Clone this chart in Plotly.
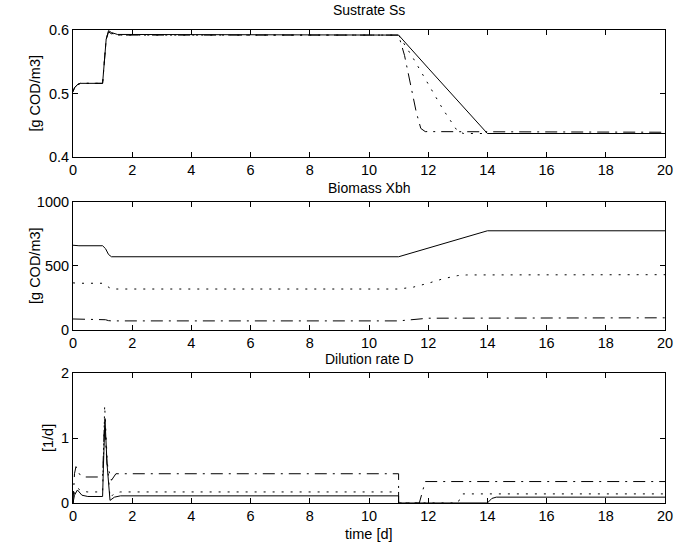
import plotly.graph_objects as go

# ---- Substrate Ss [g COD/m3] ----
ss_solid_t = [0, 0.05, 0.15, 0.25, 1.0, 1.05, 1.12, 1.2, 1.3, 1.5, 11.0, 12.0, 13.0, 14.0, 20]
ss_solid_v = [0.503, 0.509, 0.514, 0.516, 0.516, 0.545, 0.585, 0.599, 0.596, 0.593, 0.592, 0.540, 0.488, 0.437, 0.437]
ss_dot_t = [0, 0.05, 0.15, 0.25, 1.0, 1.05, 1.12, 1.2, 1.3, 1.5, 11.0, 11.5, 12.0, 12.5, 13.0, 13.2, 20]
ss_dot_v = [0.503, 0.509, 0.514, 0.516, 0.516, 0.545, 0.585, 0.598, 0.595, 0.592, 0.592, 0.555, 0.515, 0.475, 0.440, 0.437, 0.437]
ss_dd_t = [0, 0.05, 0.15, 0.25, 1.0, 1.05, 1.12, 1.2, 1.3, 1.5, 11.0, 11.2, 11.4, 11.6, 11.75, 11.9, 20]
ss_dd_v = [0.503, 0.509, 0.514, 0.516, 0.516, 0.545, 0.585, 0.597, 0.594, 0.592, 0.592, 0.560, 0.515, 0.470, 0.445, 0.440, 0.439]

# ---- Biomass Xbh [g COD/m3] ----
xb_solid_t = [0, 0.2, 1.0, 1.1, 1.2, 1.3, 11.0, 14.0, 20]
xb_solid_v = [662, 658, 658, 635, 590, 572, 572, 775, 775]
xb_dot_t = [0, 0.2, 1.0, 1.1, 1.2, 1.3, 11.0, 11.5, 12.0, 12.5, 13.0, 13.3, 20]
xb_dot_v = [368, 365, 365, 350, 330, 320, 320, 335, 365, 400, 425, 430, 432]
xb_dd_t = [0, 0.2, 1.0, 1.1, 1.2, 1.3, 11.0, 11.5, 12.0, 20]
xb_dd_v = [86, 85, 85, 80, 73, 71, 71, 84, 92, 95]

# ---- Dilution rate D [1/d] ----
d_solid_t = [0, 0.05, 0.15, 0.3, 0.5, 1.0, 1.03, 1.08, 1.15, 1.25, 1.4, 1.6, 11.0, 11.0, 14.0, 14.15, 14.3, 20]
d_solid_v = [0, 0.12, 0.20, 0.12, 0.10, 0.10, 0.60, 1.30, 0.60, 0.04, 0.09, 0.11, 0.11, 0, 0, 0.07, 0.09, 0.09]
d_dot_t = [0, 0.05, 0.12, 0.3, 0.5, 1.0, 1.03, 1.07, 1.15, 1.25, 1.4, 1.6, 11.0, 11.0, 13.0, 13.15, 20]
d_dot_v = [0, 0.15, 0.24, 0.18, 0.17, 0.17, 0.70, 1.50, 0.70, 0.08, 0.15, 0.17, 0.17, 0, 0, 0.14, 0.14]
d_dd_t = [0, 0.05, 0.1, 0.2, 0.4, 1.0, 1.03, 1.06, 1.15, 1.3, 1.45, 11.0, 11.0, 11.7, 11.9, 20]
d_dd_v = [0, 0.45, 0.56, 0.45, 0.40, 0.40, 0.80, 1.25, 0.60, 0.35, 0.45, 0.45, 0, 0, 0.33, 0.33]

panels = [
    ("Sustrate Ss", "[g COD/m3]", [0.4, 0.6], [0.4, 0.5, 0.6], ["0.4", "0.5", "0.6"],
     (ss_solid_t, ss_solid_v), (ss_dot_t, ss_dot_v), (ss_dd_t, ss_dd_v)),
    ("Biomass Xbh", "[g COD/m3]", [0, 1000], [0, 500, 1000], ["0", "500", "1000"],
     (xb_solid_t, xb_solid_v), (xb_dot_t, xb_dot_v), (xb_dd_t, xb_dd_v)),
    ("Dilution rate D", "[1/d]", [0, 2], [0, 1, 2], ["0", "1", "2"],
     (d_solid_t, d_solid_v), (d_dot_t, d_dot_v), (d_dd_t, d_dd_v)),
]

# vertical extent (paper fraction) of each axes box
domains = [[0.7315, 1.0], [0.3658, 0.6364], [0.0, 0.2748]]
x_ticks = list(range(0, 21, 2))

FONT = "Liberation Sans, Arial, Helvetica, sans-serif"
FS = 14.5
W, H = 683, 544
ML, MR, MT, MB = 73, 10, 30, 41

fig = go.Figure()
styles = ["solid", "2px,7px", "12px,6px,2px,6px"]

annotations = []
for i, (title, ylab, yr, yt, ytl, s1, s2, s3) in enumerate(panels):
    n = "" if i == 0 else str(i + 1)
    for (tt, vv), dash in zip([s1, s2, s3], styles):
        fig.add_trace(go.Scatter(x=tt, y=vv, mode="lines", xaxis="x" + n, yaxis="y" + n,
                                 line=dict(color="black", width=1, dash=dash),
                                 showlegend=False, hoverinfo="skip"))
    common = dict(showgrid=False, zeroline=False, showline=True, linecolor="black",
                  linewidth=1, mirror="ticks", ticks="inside", ticklen=5,
                  tickcolor="black", tickwidth=1,
                  tickfont=dict(family=FONT, size=FS, color="black"))
    fig.update_layout(**{
        "xaxis" + n: dict(range=[0, 20], tickvals=x_ticks, anchor="y" + n, domain=[0, 1], **common),
        "yaxis" + n: dict(range=yr, tickvals=yt, ticktext=ytl, anchor="x" + n,
                          domain=domains[i], **common),
    })
    annotations.append(dict(text=title, xref="paper", yref="paper", x=0.5, y=domains[i][1],
                            xanchor="center", yanchor="bottom",
                            yshift=10 if i == 0 else 4, showarrow=False,
                            font=dict(family=FONT, size=14, color="black")))
    annotations.append(dict(text=ylab, xref="paper", yref="paper", x=0,
                            y=(domains[i][0] + domains[i][1]) / 2, textangle=-90,
                            xanchor="center", yanchor="middle",
                            xshift=-38 if i < 2 else -25, showarrow=False,
                            font=dict(family=FONT, size=FS, color="black")))

annotations.append(dict(text="time [d]", xref="paper", yref="paper", x=0.5, y=0,
                        xanchor="center", yanchor="top", yshift=-21, showarrow=False,
                        font=dict(family=FONT, size=FS, color="black")))

fig.update_layout(width=W, height=H, margin=dict(l=ML, r=MR, t=MT, b=MB),
                  paper_bgcolor="white", plot_bgcolor="white",
                  annotations=annotations, showlegend=False)

fig.write_html("out.html")
